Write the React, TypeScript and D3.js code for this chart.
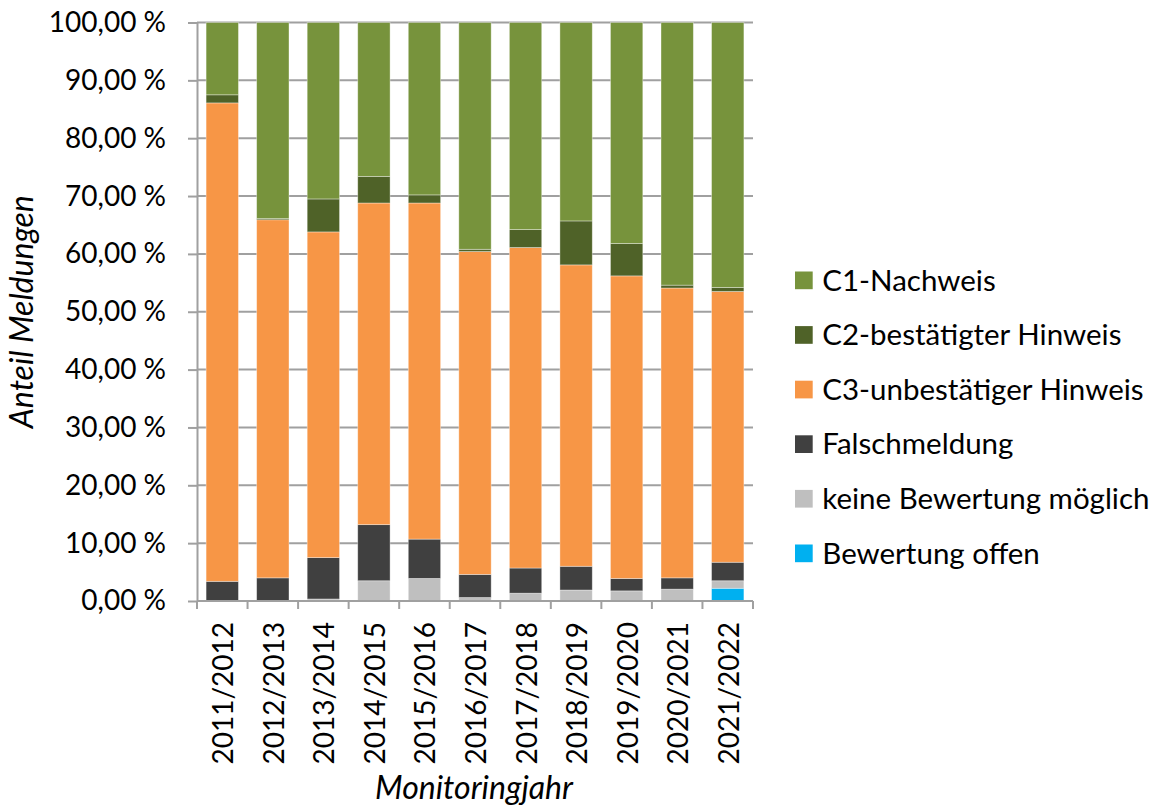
import * as React from "react";
import * as d3 from "d3";

// Monitoring years (x axis)
const years = [
    "2011/2012", "2012/2013", "2013/2014", "2014/2015", "2015/2016", "2016/2017",
    "2017/2018", "2018/2019", "2019/2020", "2020/2021", "2021/2022",
];

// shares in percent, bottom to top of the stack
const bewertungOffen = [0, 0, 0, 0, 0, 0, 0, 0, 0, 0, 2.2];
const keineBewertung = [0, 0, 0.35, 3.5, 3.9, 0.6, 1.35, 1.9, 1.75, 2.05, 1.3];
const falschmeldung = [3.4, 4.0, 7.15, 9.7, 6.8, 4.0, 4.35, 4.1, 2.15, 1.95, 3.2];
const c3Hinweis = [82.7, 61.9, 56.3, 55.6, 58.1, 55.8, 55.4, 52.1, 52.3, 50.1, 46.8];
const c2Hinweis = [1.4, 0.2, 5.7, 4.6, 1.4, 0.4, 3.1, 7.6, 5.6, 0.5, 0.7];
const c1Nachweis = [12.5, 33.9, 30.5, 26.6, 29.8, 39.2, 35.8, 34.3, 38.2, 45.4, 45.8];

const seriesNames = [
    "Bewertung offen",
    "keine Bewertung möglich",
    "Falschmeldung",
    "C3-unbestätiger Hinweis",
    "C2-bestätigter Hinweis",
    "C1-Nachweis",
];
const seriesColors = ["#00B0F0", "#BFBFBF", "#404040", "#F79646", "#4F6228", "#77933C"];
const yTicks = [0, 10, 20, 30, 40, 50, 60, 70, 80, 90, 100];

const FONT = "Lato, 'Open Sans', sans-serif";

const App: React.FC = () => {
    const svgRef = React.useRef<SVGSVGElement | null>(null);

    React.useEffect(() => {
        if (!svgRef.current) return;
        const svg = d3.select(svgRef.current);
        svg.selectAll("*").remove();

        const left = 197, right = 753, top = 22.5, bottom = 601;

        const rows = years.map((year, i) => ({
            year,
            [seriesNames[0]]: bewertungOffen[i],
            [seriesNames[1]]: keineBewertung[i],
            [seriesNames[2]]: falschmeldung[i],
            [seriesNames[3]]: c3Hinweis[i],
            [seriesNames[4]]: c2Hinweis[i],
            [seriesNames[5]]: c1Nachweis[i],
        }));

        const stacked = d3.stack<any>().keys(seriesNames)(rows);

        const x = d3.scaleBand()
            .domain(years)
            .range([left, right])
            .paddingInner(0.36)
            .paddingOuter(0.18);

        const y = d3.scaleLinear().domain([0, 100]).range([bottom, top]);

        // gridlines
        svg.append("g")
            .selectAll("line")
            .data(yTicks.slice(1))
            .enter().append("line")
            .attr("x1", left)
            .attr("x2", right)
            .attr("y1", d => y(d))
            .attr("y2", d => y(d))
            .attr("stroke", "#A0A0A0")
            .attr("stroke-width", 2);

        // bars
        svg.append("g")
            .selectAll("g")
            .data(stacked)
            .enter().append("g")
            .attr("fill", (_d, i) => seriesColors[i])
            .selectAll("rect")
            .data(d => d)
            .enter().append("rect")
            .attr("x", d => x(d.data.year)!)
            .attr("width", x.bandwidth())
            .attr("y", d => y(d[1]))
            .attr("height", d => Math.max(0, y(d[0]) - y(d[1])))
            .attr("stroke", "rgba(255,255,255,0.45)")
            .attr("stroke-width", d => (d[1] - d[0] > 0 ? 0.8 : 0));

        // y axis
        const yAxis = svg.append("g")
            .attr("transform", `translate(${left},0)`)
            .call(d3.axisLeft(y).tickValues(yTicks).tickSize(9).tickSizeOuter(0)
                .tickFormat(d => `${(+d).toFixed(2).replace(".", ",")} %`));
        yAxis.select(".domain").attr("stroke", "#A0A0A0").attr("stroke-width", 2);
        yAxis.selectAll(".tick line").attr("stroke", "#A0A0A0").attr("stroke-width", 2);
        yAxis.selectAll(".tick text")
            .attr("x", -31)
            .attr("font-family", FONT)
            .attr("font-size", 28)
            .attr("fill", "#000");

        // x axis
        const step = x.step();
        const xAxisG = svg.append("g").attr("transform", `translate(0,${bottom})`);
        xAxisG.append("line")
            .attr("x1", left).attr("x2", right)
            .attr("stroke", "#A0A0A0").attr("stroke-width", 2);
        xAxisG.selectAll(".xtick")
            .data(d3.range(years.length + 1))
            .enter().append("line")
            .attr("class", "xtick")
            .attr("x1", i => left + i * step)
            .attr("x2", i => left + i * step)
            .attr("y1", 0).attr("y2", 8)
            .attr("stroke", "#A0A0A0").attr("stroke-width", 2);
        xAxisG.selectAll(".xlabel")
            .data(years)
            .enter().append("text")
            .attr("class", "xlabel")
            .attr("transform", d => `translate(${x(d)! + x.bandwidth() / 2 + 11},21) rotate(-90)`)
            .attr("text-anchor", "end")
            .attr("font-family", FONT)
            .attr("font-size", 28)
            .attr("fill", "#000")
            .text(d => d);

        // axis titles
        svg.append("text")
            .attr("transform", `translate(33,${(top + bottom) / 2}) rotate(-90)`)
            .attr("text-anchor", "middle")
            .attr("font-family", FONT)
            .attr("font-style", "italic")
            .attr("font-size", 32)
            .text("Anteil Meldungen");
        svg.append("text")
            .attr("x", 474)
            .attr("y", 799)
            .attr("text-anchor", "middle")
            .attr("font-family", FONT)
            .attr("font-style", "italic")
            .attr("font-size", 32)
            .text("Monitoringjahr");

        // legend, top item is C1
        const legendItems = seriesNames.map((name, i) => ({ name, color: seriesColors[i] })).reverse();
        const legend = svg.append("g").attr("transform", "translate(795,280.3)");
        const item = legend.selectAll("g")
            .data(legendItems)
            .enter().append("g")
            .attr("transform", (_d, i) => `translate(0,${i * 54.6})`);
        item.append("rect")
            .attr("x", 0).attr("y", -8.8)
            .attr("width", 17.7).attr("height", 17.7)
            .attr("fill", d => d.color);
        item.append("text")
            .attr("x", 27.3).attr("y", 0)
            .attr("dy", "0.35em")
            .attr("font-family", FONT)
            .attr("font-size", 29.5)
            .attr("fill", "#000")
            .text(d => d.name);
    }, []);

    return (
        <svg
            ref={svgRef}
            width={1158}
            height={809}
            style={{ position: "absolute", left: 0, top: 0, background: "#fff" }}
        />
    );
};

export default App;
